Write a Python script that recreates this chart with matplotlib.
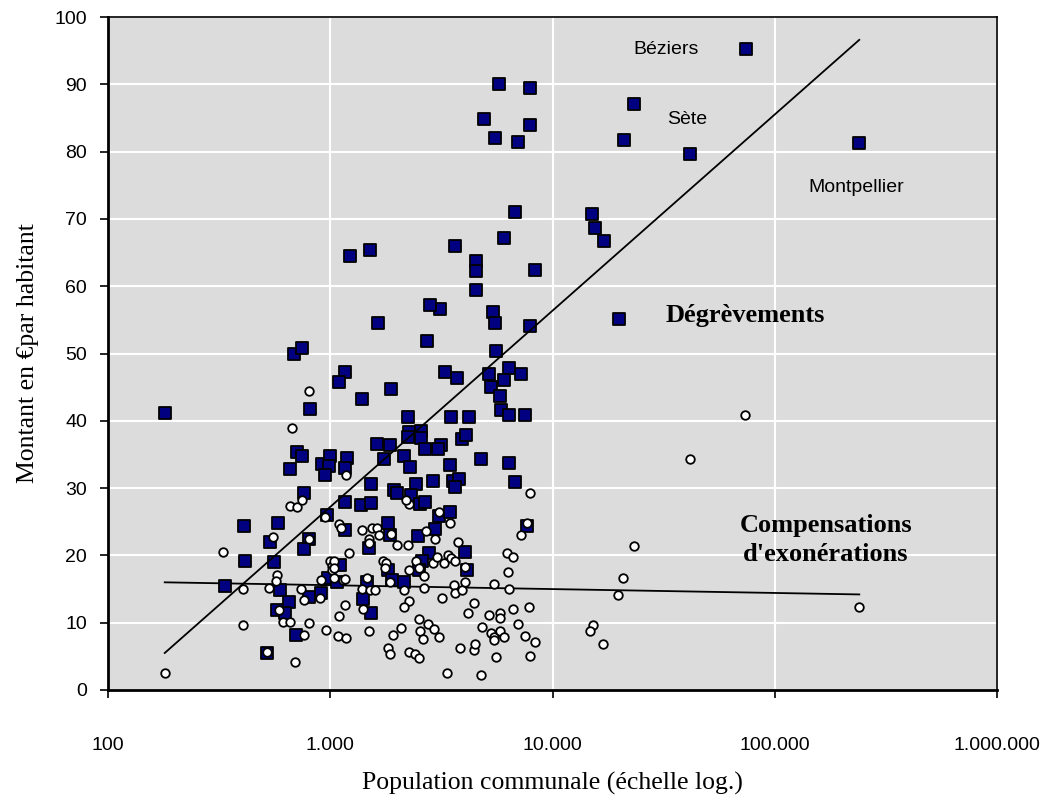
import numpy as np
import matplotlib
matplotlib.use("Agg")
from matplotlib import pyplot as plt

# Dégrèvements (squares): population, montant par habitant
sq_pop = [180, 411, 579, 537, 804, 764, 414, 560, 336, 595, 653, 576, 627, 703, 519,
          804, 910, 966, 1170, 1110, 982, 1070, 1170, 684, 750, 1170, 1100, 813, 708,
          750, 656, 916, 1000, 990, 948, 1190, 1170, 758, 2730, 5570, 3270, 3720, 6400,
          7250, 5200, 6080, 5310, 5830, 5890, 6400, 7550, 1390, 1880, 2240, 3480, 4190,
          2270, 2560, 2230, 2560, 3920, 4100, 1620, 1860, 2660, 3160, 3040, 2150, 1750,
          2290, 3440, 4790, 6360, 1520, 2420, 2900, 3570, 3790, 3660, 6810, 1930, 1990,
          2320, 1380, 1520, 2540, 2660, 1810, 3080, 3440, 1860, 1500, 2470, 2970, 4050,
          4120, 2770, 2590, 2520, 1810, 1900, 2140, 1460, 1410, 1530, 7690, 5770, 7960,
          4910, 7890, 5530, 7030, 6770, 6040, 3660, 4520, 4520, 8380, 4540, 3120, 5380,
          5490, 7960, 2820, 1640, 1230, 1510, 73900, 23200, 20900, 41400, 240000, 15000,
          15500, 17000, 19900]
sq_val = [41.1, 24.3, 24.8, 22.0, 22.5, 20.9, 19.1, 19.0, 15.4, 14.8, 13.1, 11.9, 11.4,
          8.1, 5.5, 13.8, 14.4, 26.0, 28.0, 18.6, 16.6, 16.1, 23.8, 50.0, 50.8, 47.3,
          45.7, 41.7, 35.3, 34.8, 32.8, 33.6, 34.8, 33.3, 32.0, 34.4, 33.0, 29.2, 51.9,
          50.4, 47.3, 46.3, 47.9, 46.9, 47.0, 46.1, 45.0, 43.7, 41.6, 40.9, 40.9, 43.3,
          44.7, 40.5, 40.5, 40.5, 38.4, 38.5, 37.6, 37.4, 37.3, 37.9, 36.5, 36.4, 35.8,
          36.4, 35.8, 34.8, 34.3, 33.2, 33.4, 34.3, 33.8, 30.6, 30.6, 31.0, 31.0, 31.4,
          30.1, 30.9, 29.7, 29.2, 29.0, 27.5, 27.8, 27.6, 28.0, 24.8, 25.9, 26.5, 23.0,
          21.1, 22.9, 23.9, 20.5, 17.8, 20.3, 19.1, 17.8, 17.8, 16.3, 16.1, 16.1, 13.5,
          11.4, 24.3, 90.1, 89.5, 84.8, 83.9, 82.0, 81.4, 71.0, 67.1, 66.0, 63.7, 62.3,
          62.4, 59.4, 56.6, 56.2, 54.5, 54.1, 57.2, 54.5, 64.5, 65.4, 95.2, 87.0, 81.7,
          79.6, 81.3, 70.8, 68.6, 66.7, 55.1]

# Compensations d'exonérations (circles)
ci_pop = [656, 708, 750, 948, 1100, 555, 800, 330, 1210, 1000, 1020, 1020, 576, 570,
          1140, 908, 406, 531, 740, 758, 900, 1170, 589, 406, 616, 656, 800, 960, 758,
          1080, 1180, 519, 695, 180, 2250, 3100, 3440, 1120, 1390, 1540, 1620, 1650,
          1880, 2700, 2970, 3740, 1500, 1500, 1990, 2230, 1730, 1790, 1760, 2420, 2520,
          2900, 3030, 3240, 3400, 3480, 3660, 4050, 6250, 6670, 6300, 7250, 7690, 1040,
          1040, 1160, 1040, 1460, 1850, 2270, 2630, 2140, 2630, 3600, 3660, 3920, 4050,
          5450, 6400, 1390, 1510, 1590, 3170, 2270, 2140, 1400, 1100, 4450, 4160, 5200,
          5830, 5830, 6670, 7830, 6990, 2520, 2750, 2920, 2090, 1500, 1920, 2540, 2620,
          3100, 4810, 5270, 5450, 5450, 5780, 6040, 7540, 1810, 1860, 2270, 2400, 2520,
          3820, 4420, 4490, 5570, 3350, 4780, 804, 676, 1180, 2200, 73500, 41500, 7960,
          23200, 20700, 19700, 15200, 14800, 16800, 8380, 7960, 240000]
ci_val = [27.4, 27.2, 28.2, 25.7, 24.6, 22.7, 22.4, 20.5, 20.3, 19.1, 18.4, 17.8, 17.1,
          16.2, 16.3, 16.4, 15.0, 15.2, 15.0, 13.4, 13.7, 12.6, 11.9, 9.6, 10.1, 10.1,
          10.0, 8.9, 8.1, 8.0, 7.8, 5.7, 4.1, 2.5, 27.6, 26.5, 24.8, 24.0, 23.7, 24.1,
          24.1, 23.0, 23.2, 23.6, 22.4, 22.0, 22.4, 21.9, 21.5, 21.5, 19.2, 18.8, 18.2,
          19.2, 18.1, 18.8, 19.8, 18.8, 20.1, 19.6, 19.2, 18.3, 20.3, 19.7, 17.6, 23.0,
          24.8, 19.1, 18.1, 16.5, 16.7, 16.6, 16.1, 17.9, 16.9, 14.9, 15.2, 15.6, 14.4,
          14.9, 16.1, 15.8, 15.0, 15.0, 14.8, 14.8, 13.7, 13.2, 12.3, 12.0, 11.0, 12.9,
          11.5, 11.2, 11.4, 10.7, 12.1, 12.3, 9.8, 10.5, 9.8, 9.0, 9.2, 8.8, 8.1, 8.8,
          7.6, 7.9, 9.3, 8.4, 7.9, 7.4, 8.7, 7.9, 8.0, 6.3, 5.3, 5.7, 5.4, 4.7, 6.3,
          6.0, 6.9, 4.9, 2.5, 2.3, 44.4, 39.0, 31.9, 28.2, 40.8, 34.3, 29.2, 21.4, 16.7,
          14.1, 9.6, 8.7, 6.9, 7.2, 5.1, 12.3]

# trend lines (endpoints)
trend_pop = [180, 240000]
trend_deg = [5.5, 96.6]
trend_comp = [16.0, 14.2]

xticks = [100, 1000, 10000, 100000, 1000000]
xtick_labels = ["100", "1.000", "10.000", "100.000", "1.000.000"]

fig = plt.figure(figsize=(10.52, 7.96), dpi=100)
ax = fig.add_axes([108 / 1052, 1 - 690 / 796, 889 / 1052, 673 / 796])
ax.set_facecolor("#dcdcdc")
ax.set_xscale("log")
ax.set_xlim(100, 1000000)
ax.set_ylim(0, 100)

ax.grid(True, color="white", linewidth=1.5)
ax.set_axisbelow(True)
ax.minorticks_off()

ax.plot(trend_pop, trend_deg, color="black", linewidth=1.3, zorder=4)
ax.plot(trend_pop, trend_comp, color="black", linewidth=1.3, zorder=2)

ax.scatter(sq_pop, sq_val, marker="s", s=80, facecolor="#000080",
           edgecolor="black", linewidth=1.3, zorder=3)
ax.scatter(ci_pop, ci_val, marker="o", s=38, facecolor="white",
           edgecolor="black", linewidth=1.3, zorder=3)

ax.set_xticks(xticks)
ax.set_xticklabels(xtick_labels)
ax.set_yticks(range(0, 101, 10))

tick_font = ["Liberation Sans", "DejaVu Sans"]
for lab in ax.get_xticklabels() + ax.get_yticklabels():
    lab.set_family(tick_font)
    lab.set_fontsize(14)
ax.tick_params(axis="x", direction="out", length=6, width=1.2, pad=28)
ax.tick_params(axis="y", direction="out", length=6, width=1.2, pad=9)

for side in ["left", "bottom"]:
    ax.spines[side].set_linewidth(2)
for side in ["top", "right"]:
    ax.spines[side].set_linewidth(1.2)

serif = ["Liberation Serif", "DejaVu Serif"]
ax.set_xlabel("Population communale (échelle log.)", family=serif, fontsize=18.5,
              labelpad=13)
ax.set_ylabel("Montant en €par habitant", family=serif, fontsize=18.5, labelpad=11)

ax.text(32300, 95.2, "Béziers", family=tick_font, fontsize=14, ha="center", va="center")
ax.text(40500, 84.8, "Sète", family=tick_font, fontsize=14, ha="center", va="center")
ax.text(232000, 74.7, "Montpellier", family=tick_font, fontsize=14, ha="center", va="center")
ax.text(74000, 55.6, "Dégrèvements", family=serif, fontsize=19, fontweight="bold",
        ha="center", va="center")
ax.text(170000, 22.3, "Compensations\nd'exonérations", family=serif, fontsize=19,
        fontweight="bold", ha="center", va="center", linespacing=1.3)

fig.savefig("out.png", dpi=100)
